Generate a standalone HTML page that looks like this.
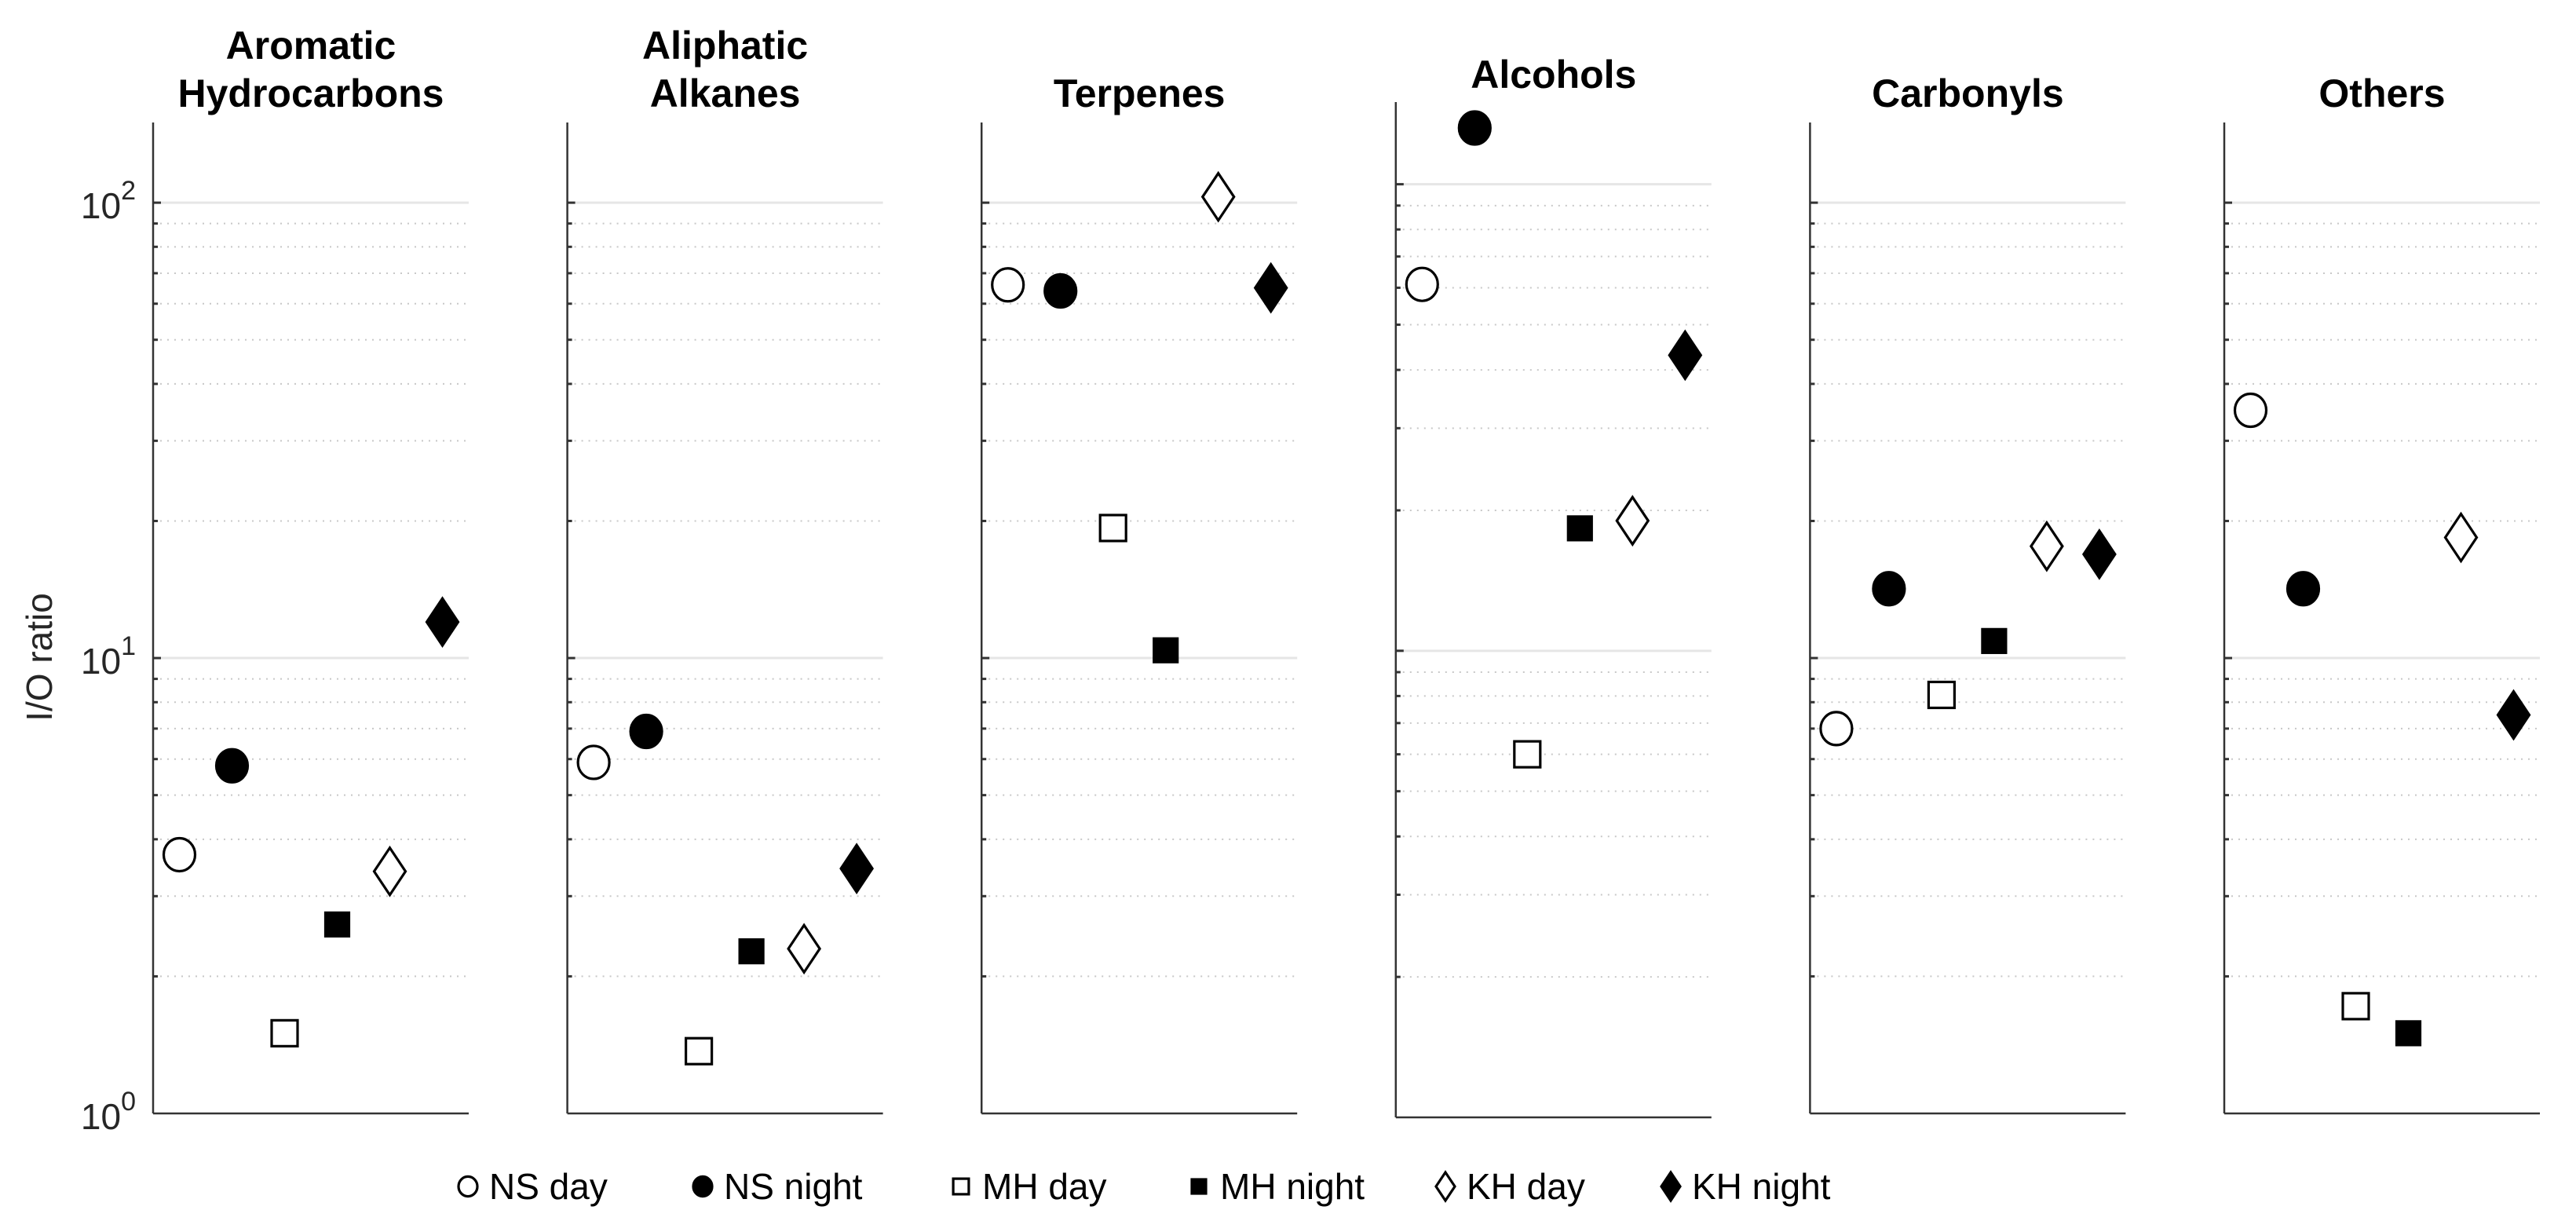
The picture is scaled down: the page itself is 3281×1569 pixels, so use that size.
<!DOCTYPE html>
<html><head><meta charset="utf-8"><style>
html,body{margin:0;padding:0;background:#fff;}
svg{display:block;}
text{font-family:"Liberation Sans",Arial,sans-serif;}
</style></head><body>
<svg id="chart" width="3281" height="1569" viewBox="0 0 3281 1569" xmlns="http://www.w3.org/2000/svg"></svg>
<script>
const categories = [["Aromatic","Hydrocarbons"],["Aliphatic","Alkanes"],["Terpenes"],["Alcohols"],["Carbonyls"],["Others"]];
const seriesNames = ["NS day","NS night","MH day","MH night","KH day","KH night"];
const nsDay   = [3.7, 5.9, 66, 61, 7.0, 35];
const nsNight = [5.8, 6.9, 64, 132, 14.2, 14.2];
const mhDay   = [1.5, 1.37, 19.3, 6.0, 8.3, 1.72];
const mhNight = [2.6, 2.27, 10.4, 18.3, 10.9, 1.5];
const khDay   = [3.4, 2.3, 103, 19, 17.6, 18.4];
const khNight = [12.0, 3.45, 65, 43, 16.9, 7.5];
const yTickLabels = ["0","1","2"];

const svg = document.getElementById('chart');
const NS = 'http://www.w3.org/2000/svg';
function mk(tag, attrs, parent){ const e=document.createElementNS(NS,tag); for(const k in attrs) e.setAttribute(k,attrs[k]); (parent||svg).appendChild(e); return e; }

const series = [nsDay, nsNight, mhDay, mhNight, khDay, khNight];
const marker = ['circle','circle','square','square','diamond','diamond'];
const filled = [false,true,false,true,false,true];
const panelX0 = 195, panelStep = 527.6, panelW = 402;
const yMin = 1, yMax = 150;

function panelGeom(i){
  if(i===3) return {top:130, bottom:1423};
  return {top:156, bottom:1418};
}
function yScale(v,g){ const f=(Math.log10(v)-Math.log10(yMin))/(Math.log10(yMax)-Math.log10(yMin)); return g.bottom - f*(g.bottom-g.top); }
function xScale(j,i){ const x0=panelX0+i*panelStep; return x0 + (j+1-0.5)/6*panelW; }

function drawMarker(type, fill, cx, cy, parent, scale){
  const s = scale||1;
  let el;
  if(type==='circle'){
    el = mk('ellipse',{cx:cx,cy:cy,rx:20*s,ry:21*s,fill:fill?'#000':'#fff',stroke:'#000','stroke-width':3.2},parent);
  } else if(type==='square'){
    const h = fill?15*s:16.5*s;
    el = mk('rect',{x:cx-h,y:cy-h,width:2*h,height:2*h,fill:fill?'#000':'#fff',stroke:'#000','stroke-width':3.2},parent);
  } else {
    const w=20*s, h=30*s;
    el = mk('polygon',{points:`${cx},${cy-h} ${cx+w},${cy} ${cx},${cy+h} ${cx-w},${cy}`,fill:fill?'#000':'#fff',stroke:'#000','stroke-width':3.2},parent);
  }
  return el;
}

categories.forEach((cat,i)=>{
  const g = panelGeom(i);
  const x0 = panelX0 + i*panelStep;
  const grp = mk('g',{});
  
  
  for(let d=0; d<=2; d++){
    for(let m=1; m<=9; m++){
      const v = m*Math.pow(10,d);
      if(v<yMin || v>yMax) continue;
      const y = yScale(v,g);
      if(m===1 && d>0){
        const gl = mk('line',{x1:x0,x2:x0+panelW,y1:y,y2:y,stroke:'#e6e6e6','stroke-width':3},grp);
        
        
        mk('line',{x1:x0,x2:x0+10,y1:y,y2:y,stroke:'#333','stroke-width':3},grp);
      } else if(m>1){
        const gl = mk('line',{x1:x0,x2:x0+panelW,y1:y,y2:y,stroke:'#c8c8c8','stroke-width':2,'stroke-dasharray':'2 7'},grp);
        
        
        mk('line',{x1:x0,x2:x0+6,y1:y,y2:y,stroke:'#333','stroke-width':3},grp);
      }
    }
  }
  const ya = mk('line',{x1:x0,x2:x0,y1:g.top,y2:g.bottom,stroke:'#333','stroke-width':2.5},grp);
  
  
  const xa = mk('line',{x1:x0,x2:x0+panelW,y1:g.bottom,y2:g.bottom,stroke:'#333','stroke-width':2.5},grp);
  
  
  const cx = x0 + panelW/2;
  const lines = cat.length===2 ? [[cat[0],75],[cat[1],136]] : [[cat[0],136]];
  if(i===3) lines[0][1]=112;
  lines.forEach(([t,y])=>{
    const tt = mk('text',{x:cx,y:y,'text-anchor':'middle','font-size':50,'font-weight':'bold',fill:'#000'},grp);
    tt.textContent = t;
    
    
  });
  if(i===0){
    yTickLabels.forEach(p=>{
      const y = yScale(Math.pow(10,+p),g);
      const t = mk('text',{x:x0-22,y:y+20,'text-anchor':'end','font-size':46,fill:'#262626'},grp);
      
      
      t.appendChild(document.createTextNode('10'));
      const sp = mk('tspan',{dy:-24,'font-size':34},t);
      sp.textContent = p;
    });
  }
  series.forEach((arr,j)=>{
    const m = drawMarker(marker[j], filled[j], xScale(j,i), yScale(arr[i],g), grp);
    
    
  });
});

const yt = mk('text',{x:0,y:0,transform:'translate(66,837) rotate(-90)','text-anchor':'middle','font-size':46,fill:'#262626'});
yt.textContent = 'I/O ratio';



const legX = [596, 895, 1224, 1527, 1841, 2128];
const leg = mk('g',{});


seriesNames.forEach((nm,j)=>{
  const eg = mk('g',{},leg);
  
  
  drawMarker(marker[j], filled[j], legX[j], 1511, eg, 0.6);
  const t = mk('text',{x:legX[j]+27,y:1527,'font-size':46,fill:'#000'},eg);
  t.textContent = nm;
});
</script>
</body></html>
